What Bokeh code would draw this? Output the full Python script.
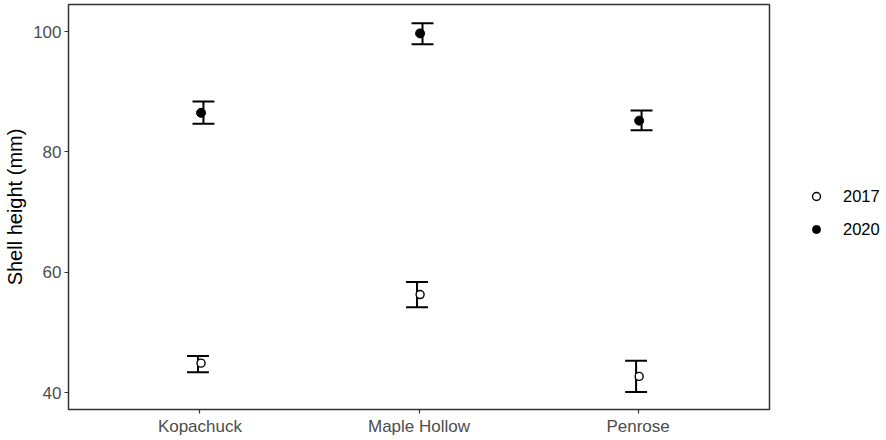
from bokeh.plotting import figure
from bokeh.layouts import row
from bokeh.models import ColumnDataSource, FactorRange, FixedTicker, Legend, LegendItem
from bokeh.transform import dodge
from bokeh.embed import file_html
from bokeh.resources import INLINE

sites = ["Kopachuck", "Maple Hollow", "Penrose"]
years = ["2017", "2020"]
mean_2017 = [44.9, 56.3, 42.7]
lower_2017 = [43.4, 54.2, 40.1]
upper_2017 = [46.1, 58.4, 45.3]
mean_2020 = [86.5, 99.7, 85.2]
lower_2020 = [84.7, 97.9, 83.6]
upper_2020 = [88.4, 101.4, 86.9]
y_ticks = [40, 60, 80, 100]

FONT = "Liberation Sans"

p = figure(
    x_range=FactorRange(*sites, range_padding=0.2 / 3),
    y_range=(37.2, 104.5),
    frame_width=701, frame_height=405,
    output_backend="svg", toolbar_location=None,
    min_border_left=68, min_border_right=2, min_border_top=4, min_border_bottom=29,
)
p.xgrid.visible = False
p.ygrid.visible = False
p.outline_line_color = "#333333"
p.outline_line_width = 1.5
p.outline_line_alpha = 1.0

for ax in (p.xaxis[0], p.yaxis[0]):
    ax.axis_line_color = None
    ax.major_tick_line_color = "#333333"
    ax.major_tick_line_width = 1.2
    ax.major_tick_out = 4
    ax.major_tick_in = 0
    ax.minor_tick_line_color = None
    ax.major_label_text_font = FONT
    ax.major_label_text_font_size = "17px"
    ax.major_label_text_color = "#4D4D4D"
    ax.major_label_standoff = 3

p.yaxis.ticker = FixedTicker(ticks=y_ticks)
p.yaxis.axis_label = "Shell height (mm)"
p.yaxis.axis_label_text_font = FONT
p.yaxis.axis_label_text_font_size = "20px"
p.yaxis.axis_label_text_font_style = "normal"
p.yaxis.axis_label_text_color = "black"
p.yaxis.axis_label_standoff = 4

src17 = ColumnDataSource(dict(site=sites, mean=mean_2017, lower=lower_2017, upper=upper_2017))
src20 = ColumnDataSource(dict(site=sites, mean=mean_2020, lower=lower_2020, upper=upper_2020))

eb_off = {"2017": -0.009, "2020": 0.016}
pt_off = 0.005
cap = 0.05

point_style = {
    "2017": dict(marker="circle", size=8, fill_color="white", line_color="black", line_width=1.4),
    "2020": dict(marker="circle", size=9, fill_color="black", line_color="black", line_width=1),
}

for yr, src in (("2017", src17), ("2020", src20)):
    o = eb_off[yr]
    p.segment(x0=dodge("site", o, range=p.x_range), x1=dodge("site", o, range=p.x_range),
              y0="lower", y1="upper", source=src, line_color="black", line_width=2)
    p.segment(x0=dodge("site", o - cap, range=p.x_range), x1=dodge("site", o + cap, range=p.x_range),
              y0="upper", y1="upper", source=src, line_color="black", line_width=2)
    p.segment(x0=dodge("site", o - cap, range=p.x_range), x1=dodge("site", o + cap, range=p.x_range),
              y0="lower", y1="lower", source=src, line_color="black", line_width=2)
    p.scatter(x=dodge("site", pt_off, range=p.x_range), y="mean", source=src, **point_style[yr])

# legend panel as a separate small figure
lg = figure(
    width=113, height=438, x_range=(0, 1), y_range=(0, 1),
    output_backend="svg", toolbar_location=None,
    x_axis_location=None, y_axis_location=None,
    min_border_left=0, min_border_right=0, min_border_top=0, min_border_bottom=0,
)
lg.xgrid.visible = False
lg.ygrid.visible = False
lg.outline_line_color = None

nan = float("nan")
items = []
for yr in years:
    r = lg.scatter(x=[nan], y=[nan], **point_style[yr])
    items.append(LegendItem(label=yr, renderers=[r]))

legend = Legend(
    items=items,
    location=(35, 170),
    margin=0, padding=0, spacing=13,
    glyph_width=20, glyph_height=20, label_standoff=17,
    border_line_color=None, background_fill_alpha=0,
    label_text_font=FONT, label_text_font_size="16.5px", label_text_color="black",
)
lg.add_layout(legend, "center")

layout = row(p, lg)
open("out.html", "w").write(file_html(layout, INLINE))
